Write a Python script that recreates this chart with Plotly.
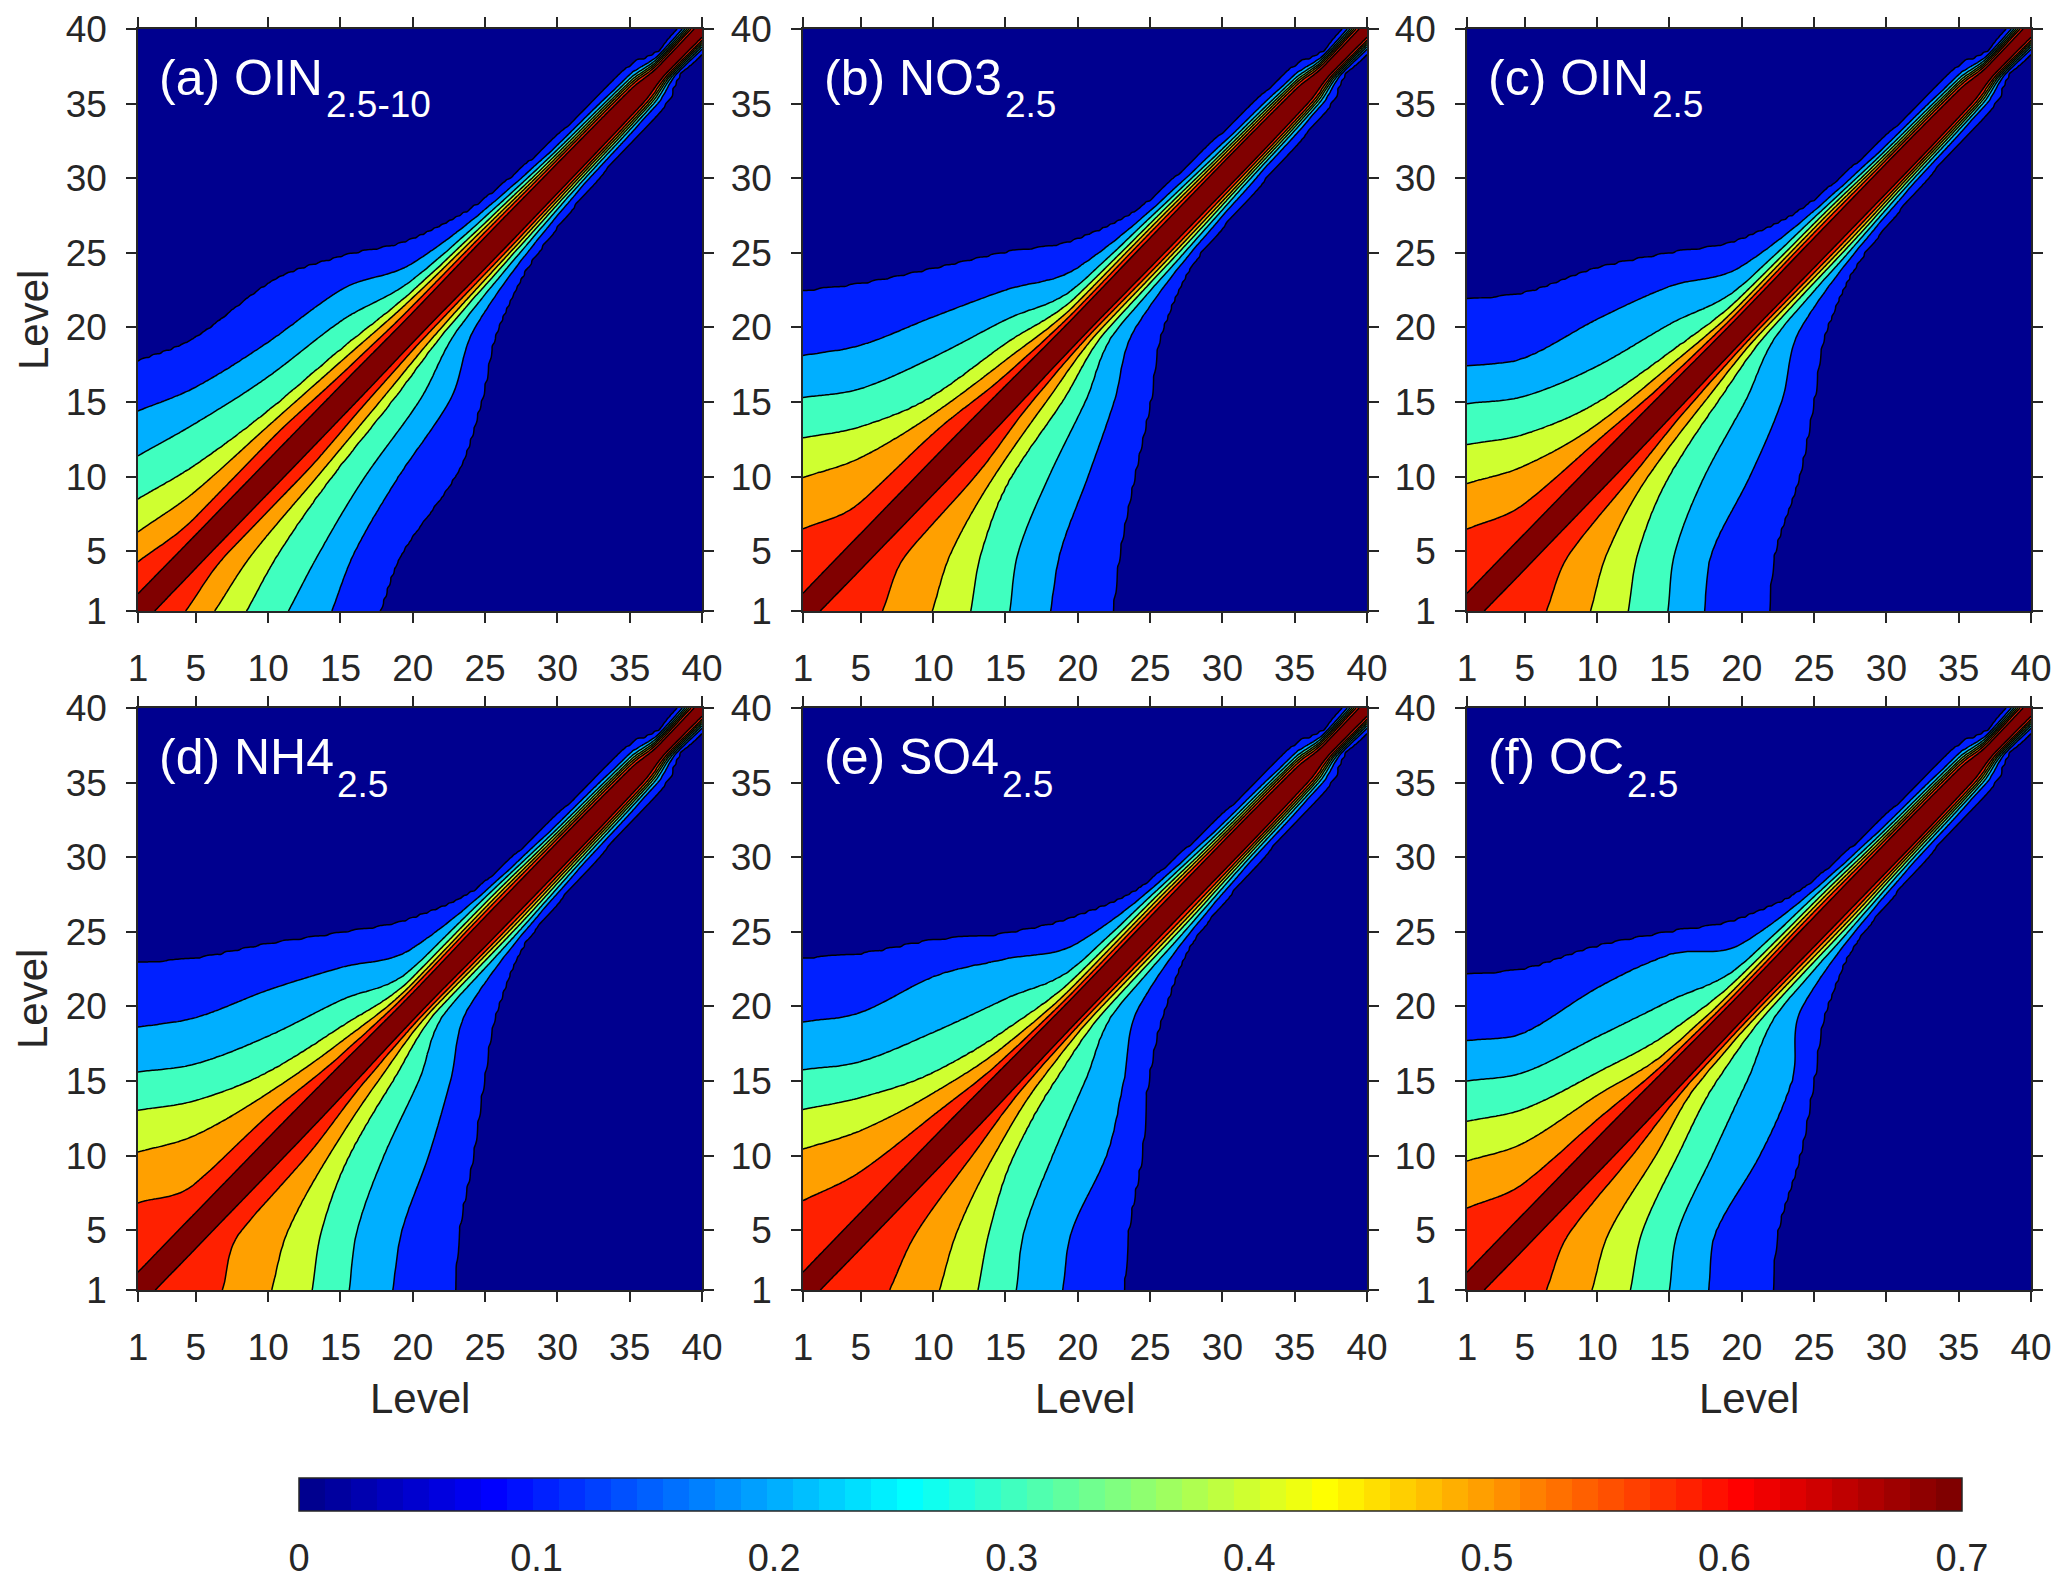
import numpy as np
import plotly.graph_objects as go

# page body has an 8px margin: keep the figure inside the 2067x1587 window
OFF = 8
W, H = 2067 - 2 * OFF, 1587 - 2 * OFF


def px_x(X):
    return (X - OFF) / W


def px_y(Y):
    return 1 - (Y - OFF) / H


# ---------------- data ----------------
anchor_levels = [1, 5, 10, 15, 20, 25, 30, 35, 37, 40]
contour_values = [0.1, 0.2, 0.3, 0.4, 0.5, 0.6, 0.7]
level_ticks = [1, 5, 10, 15, 20, 25, 30, 35, 40]
colorbar_ticks = [0, 0.1, 0.2, 0.3, 0.4, 0.5, 0.6, 0.7]
colorbar_labels = ["0", "0.1", "0.2", "0.3", "0.4", "0.5", "0.6", "0.7"]

panel_letters = ["a", "b", "c", "d", "e", "f"]
species_names = ["OIN", "NO3", "OIN", "NH4", "SO4", "OC"]
size_ranges = ["2.5-10", "2.5", "2.5", "2.5", "2.5", "2.5"]

# Distance (in levels) from the diagonal at which the vertical correlation
# drops to each contour value.  rows: contour_values 0.1 ... 0.7,
# columns: anchor_levels (the lower of the two levels).
dist_oin_coarse = [
    [16.7, 14.3, 12.9, 9.7, 5.9, 3.6, 2.8, 2.5, 1.5, 1.7],
    [13.4, 11.0, 9.0, 7.5, 4.3, 2.9, 2.2, 1.9, 1.25, 1.45],
    [10.4, 8.6, 6.7, 5.4, 3.2, 2.4, 1.9, 1.65, 1.1, 1.25],
    [7.5, 5.8, 4.4, 3.5, 2.45, 2.0, 1.65, 1.45, 0.95, 1.1],
    [5.3, 4.05, 3.4, 2.7, 2.0, 1.7, 1.45, 1.3, 0.85, 0.95],
    [3.3, 2.3, 2.3, 1.8, 1.45, 1.4, 1.25, 1.15, 0.7, 0.8],
    [1.05, 1.05, 1.05, 1.05, 1.0, 1.05, 1.0, 0.9, 0.5, 0.55],
]
dist_no3 = [
    [21.4, 17.9, 13.9, 10.0, 5.9, 3.5, 3.0, 2.5, 1.5, 1.7],
    [17.1, 13.8, 10.7, 7.5, 4.0, 2.8, 2.3, 1.9, 1.25, 1.45],
    [14.3, 10.9, 8.0, 5.5, 2.8, 2.35, 1.95, 1.65, 1.1, 1.25],
    [11.6, 8.35, 5.4, 3.9, 2.15, 1.95, 1.7, 1.45, 0.95, 1.1],
    [8.95, 6.3, 4.2, 2.8, 1.7, 1.65, 1.5, 1.3, 0.85, 0.95],
    [5.5, 3.3, 2.9, 1.8, 1.3, 1.35, 1.25, 1.15, 0.7, 0.8],
    [1.05, 1.1, 1.1, 1.05, 0.95, 1.0, 1.0, 0.9, 0.5, 0.55],
]
dist_oin_fine = [
    [20.85, 17.3, 13.95, 9.95, 5.9, 3.5, 2.8, 2.5, 1.5, 1.7],
    [16.4, 12.95, 10.55, 7.75, 4.1, 2.8, 2.2, 1.9, 1.25, 1.45],
    [13.9, 10.4, 7.4, 5.2, 2.8, 2.35, 1.9, 1.65, 1.1, 1.25],
    [11.15, 7.85, 4.95, 3.3, 2.1, 1.95, 1.65, 1.45, 0.95, 1.1],
    [8.55, 5.75, 3.5, 2.4, 1.65, 1.65, 1.45, 1.3, 0.85, 0.95],
    [5.5, 3.2, 2.4, 1.6, 1.3, 1.35, 1.25, 1.15, 0.7, 0.8],
    [1.05, 1.1, 1.1, 1.05, 0.95, 1.0, 1.0, 0.9, 0.5, 0.55],
]
dist_nh4 = [
    [21.9, 18.2, 14.15, 9.9, 5.9, 3.3, 2.8, 2.5, 1.5, 1.7],
    [17.6, 14.25, 11.1, 7.6, 3.9, 2.7, 2.2, 1.9, 1.25, 1.45],
    [14.6, 11.15, 8.0, 5.4, 2.55, 2.3, 1.9, 1.65, 1.1, 1.25],
    [12.05, 8.7, 5.6, 3.6, 1.95, 1.9, 1.65, 1.45, 0.95, 1.1],
    [9.25, 6.4, 4.2, 2.6, 1.55, 1.6, 1.45, 1.3, 0.85, 0.95],
    [5.85, 3.15, 2.7, 1.7, 1.25, 1.35, 1.25, 1.15, 0.7, 0.8],
    [1.05, 1.1, 1.1, 1.05, 0.9, 1.0, 1.0, 0.9, 0.5, 0.55],
]
dist_so4 = [
    [22.2, 18.5, 14.4, 9.85, 6.05, 3.4, 2.8, 2.5, 1.5, 1.7],
    [17.95, 14.6, 12.0, 8.2, 4.25, 2.8, 2.2, 1.9, 1.25, 1.45],
    [14.75, 11.3, 8.25, 5.5, 2.8, 2.35, 1.9, 1.65, 1.1, 1.25],
    [12.1, 8.9, 5.55, 3.4, 2.1, 1.95, 1.65, 1.45, 0.95, 1.1],
    [9.45, 6.7, 4.2, 2.4, 1.65, 1.65, 1.45, 1.3, 0.85, 0.95],
    [6.0, 3.95, 2.7, 1.6, 1.3, 1.35, 1.25, 1.15, 0.7, 0.8],
    [1.05, 1.1, 1.1, 1.05, 0.95, 1.0, 1.0, 0.9, 0.5, 0.55],
]
dist_oc = [
    [21.1, 17.5, 14.0, 9.95, 5.9, 3.4, 2.8, 2.5, 1.5, 1.7],
    [16.7, 13.25, 11.25, 8.5, 4.2, 2.8, 2.2, 1.9, 1.25, 1.45],
    [14.0, 10.6, 7.95, 5.35, 2.8, 2.35, 1.9, 1.65, 1.1, 1.25],
    [11.3, 8.15, 5.55, 3.25, 2.1, 1.95, 1.65, 1.45, 0.95, 1.1],
    [8.65, 5.9, 4.05, 2.1, 1.65, 1.65, 1.45, 1.3, 0.85, 0.95],
    [5.5, 3.2, 2.4, 1.5, 1.3, 1.35, 1.25, 1.15, 0.7, 0.8],
    [1.05, 1.1, 1.1, 1.05, 0.95, 1.0, 1.0, 0.9, 0.5, 0.55],
]
panel_tables = [dist_oin_coarse, dist_no3, dist_oin_fine, dist_nh4, dist_so4, dist_oc]

# ---------------- styling ----------------
band_colors = ["#00008F", "#0020FF", "#00AFFF", "#40FFBF",
               "#CFFF30", "#FFA000", "#FF2000", "#800000"]
FONT = "Liberation Sans, Arial, Helvetica, sans-serif"
AX_COLOR = "#262626"

# panel frames in window pixels
col_px = [(138, 702), (803, 1367), (1467, 2031)]
row_px = [(29, 611), (708, 1290)]


def pchip(xk, yk, x):
    xk = np.asarray(xk, float)
    yk = np.asarray(yk, float)
    h = np.diff(xk)
    delta = np.diff(yk) / h
    n = len(xk)
    m = np.zeros(n)
    for i in range(1, n - 1):
        if delta[i - 1] * delta[i] > 0:
            w1 = 2 * h[i] + h[i - 1]
            w2 = h[i] + 2 * h[i - 1]
            m[i] = (w1 + w2) / (w1 / delta[i - 1] + w2 / delta[i])
    m[0] = delta[0]
    m[-1] = delta[-1]
    idx = np.clip(np.searchsorted(xk, x) - 1, 0, n - 2)
    t = (x - xk[idx]) / h[idx]
    h00 = 2 * t**3 - 3 * t**2 + 1
    h10 = t**3 - 2 * t**2 + t
    h01 = -2 * t**3 + 3 * t**2
    h11 = t**3 - t**2
    return (h00 * yk[idx] + h10 * h[idx] * m[idx]
            + h01 * yk[idx + 1] + h11 * h[idx] * m[idx + 1])


grid = np.arange(1.0, 40.0001, 0.25)
GX, GY = np.meshgrid(grid, grid)
A = np.minimum(GX, GY)
DD = np.abs(GX - GY)


def build_field(table):
    # distances for 0.7, 0.6, ..., 0.1 (increasing distance)
    dists = [pchip(anchor_levels, table[k], A) for k in range(len(contour_values) - 1, -1, -1)]
    vals = [contour_values[k] for k in range(len(contour_values) - 1, -1, -1)]
    stack = np.maximum.accumulate(np.array(dists), axis=0)
    for k in range(1, stack.shape[0]):
        stack[k] = np.maximum(stack[k], stack[k - 1] + 0.02)
    knots = [np.zeros_like(DD)] + list(stack) + [stack[-1] * 2.0 + 4.0]
    kvals = [1.0] + vals + [0.0]
    z = np.zeros_like(DD)
    for k in range(len(knots) - 1):
        lo, hi = knots[k], knots[k + 1]
        mask = (DD >= lo) & (DD < hi)
        frac = (DD - lo) / np.maximum(hi - lo, 1e-9)
        seg = kvals[k] + (kvals[k + 1] - kvals[k]) * frac
        z = np.where(mask, seg, z)
    return np.round(z, 4)


# stepwise colorscale so that every contour band gets exactly one colour
nb = len(band_colors)
fill_scale = []
for k, c in enumerate(band_colors):
    lo = max(0.0, (k - 0.5) / (nb - 1))
    hi = min(1.0, (k + 0.5) / (nb - 1))
    fill_scale.append([lo, c])
    fill_scale.append([hi, c])


def jet64():
    n = 16
    u = [i / n for i in range(1, n + 1)] + [1.0] * (n - 1) + [i / n for i in range(n, 0, -1)]
    cols = []
    for k in range(1, 65):
        g = u[k - 9] if 9 <= k <= 55 else 0.0
        r = u[k - 25] if 25 <= k <= 64 else 0.0
        b = u[k + 7] if 1 <= k <= 39 else 0.0
        cols.append("rgb(%d,%d,%d)" % (round(r * 255), round(g * 255), round(b * 255)))
    return cols


jet_cols = jet64()
jet_scale = []
for i, c in enumerate(jet_cols):
    jet_scale.append([i / 64, c])
    jet_scale.append([(i + 1) / 64, c])

char_w = {'(': 333, ')': 333, ' ': 278, 'a': 556, 'b': 556, 'c': 500, 'd': 556,
          'e': 556, 'f': 278, 'O': 778, 'I': 278, 'N': 722, 'H': 722, 'S': 667,
          'C': 722, '3': 556, '4': 556}

fig = go.Figure()
layout = dict(width=W, height=H, paper_bgcolor="white", plot_bgcolor="white",
              margin=dict(l=0, r=0, t=0, b=0, autoexpand=False), showlegend=False)
annotations = []
shapes = []

TITLE_FS = 50
SUB_FS = 37

for i in range(6):
    r, c = divmod(i, 3)
    x0, x1 = col_px[c]
    y0, y1 = row_px[r]
    xn = "x" if i == 0 else "x%d" % (i + 1)
    yn = "y" if i == 0 else "y%d" % (i + 1)
    z = build_field(panel_tables[i])
    fig.add_trace(go.Contour(
        x=grid, y=grid, z=z, xaxis=xn, yaxis=yn,
        autocontour=False,
        contours=dict(start=contour_values[0], end=contour_values[-1],
                      size=0.1, coloring="fill"),
        colorscale=fill_scale, showscale=False,
        line=dict(color="black", width=1.5, smoothing=1),
        hoverinfo="skip"))
    axcommon = dict(range=[1, 40], tickvals=level_ticks, ticks="outside", ticklen=10,
                    tickwidth=1.5, tickcolor=AX_COLOR, showline=True, linecolor=AX_COLOR,
                    linewidth=1.5, mirror="ticks", showgrid=False, zeroline=False,
                    layer="above traces", automargin=False,
                    tickfont=dict(family=FONT, size=37, color=AX_COLOR))
    layout["xaxis" if i == 0 else "xaxis%d" % (i + 1)] = dict(
        axcommon, domain=[px_x(x0), px_x(x1)], anchor=yn, ticklabelstandoff=14)
    layout["yaxis" if i == 0 else "yaxis%d" % (i + 1)] = dict(
        axcommon, domain=[px_y(y1), px_y(y0)], anchor=xn, ticklabelstandoff=12)

    main = "(%s) %s" % (panel_letters[i], species_names[i])
    tx = x0 + 19
    annotations.append(dict(text=main, xref="paper", yref="paper", x=px_x(tx),
                            y=px_y(y0 + 49), xanchor="left", yanchor="middle",
                            showarrow=False, font=dict(family=FONT, size=TITLE_FS, color="white")))
    wmain = sum(char_w.get(ch, 556) for ch in main) * TITLE_FS / 1000.0
    annotations.append(dict(text=size_ranges[i], xref="paper", yref="paper",
                            x=px_x(tx + wmain + 3), y=px_y(y0 + 76),
                            xanchor="left", yanchor="middle", showarrow=False,
                            font=dict(family=FONT, size=SUB_FS, color="white")))

# axis titles
for r in range(2):
    y0, y1 = row_px[r]
    annotations.append(dict(text="Level", xref="paper", yref="paper", x=px_x(33),
                            y=px_y((y0 + y1) / 2), textangle=-90, xanchor="center",
                            yanchor="middle", showarrow=False,
                            font=dict(family=FONT, size=42, color=AX_COLOR)))
for c in range(3):
    x0, x1 = col_px[c]
    annotations.append(dict(text="Level", xref="paper", yref="paper", x=px_x((x0 + x1) / 2),
                            y=px_y(1398), xanchor="center", yanchor="middle",
                            showarrow=False, font=dict(family=FONT, size=42, color=AX_COLOR)))

# colour bar (horizontal, jet 0-0.7)
CB_X0, CB_X1, CB_Y0, CB_Y1 = 299, 1962, 1478, 1511
fig.add_trace(go.Scatter(
    x=[1, 1], y=[1, 1], xaxis="x", yaxis="y", mode="markers",
    marker=dict(size=1, opacity=0, color=[colorbar_ticks[0], colorbar_ticks[-1]],
                cmin=colorbar_ticks[0], cmax=colorbar_ticks[-1], colorscale=jet_scale,
                showscale=True,
                colorbar=dict(orientation="h", x=px_x((CB_X0 + CB_X1) / 2), xanchor="center",
                              len=(CB_X1 - CB_X0) / W, lenmode="fraction",
                              thickness=CB_Y1 - CB_Y0, thicknessmode="pixels",
                              y=px_y(CB_Y0), yanchor="top", ypad=0, xpad=0,
                              outlinewidth=1.5, outlinecolor=AX_COLOR,
                              tickvals=colorbar_ticks, ticktext=colorbar_labels,
                              ticks="outside", ticklen=14, tickcolor="rgba(0,0,0,0)",
                              tickfont=dict(family=FONT, size=38, color=AX_COLOR))),
    hoverinfo="skip", showlegend=False))

# short inner tick marks of the colour bar
for v in colorbar_ticks[1:-1]:
    xp = CB_X0 + (CB_X1 - CB_X0) * (v - colorbar_ticks[0]) / (colorbar_ticks[-1] - colorbar_ticks[0])
    shapes.append(dict(type="line", xref="paper", yref="paper", x0=px_x(xp), x1=px_x(xp),
                       y0=px_y(CB_Y1), y1=px_y(CB_Y1 - 17),
                       line=dict(color="black", width=1.5)))

layout["annotations"] = annotations
layout["shapes"] = shapes
fig.update_layout(**layout)
fig.write_html("out.html")
